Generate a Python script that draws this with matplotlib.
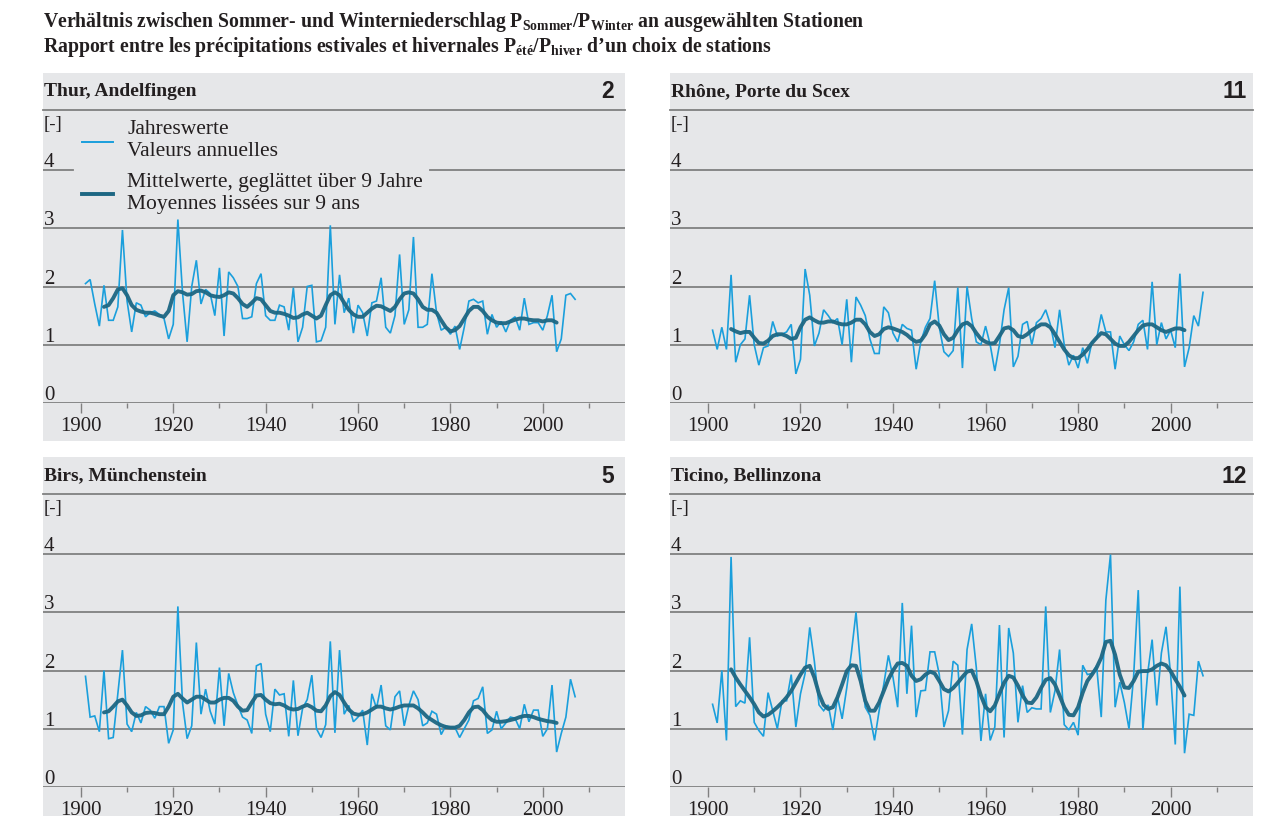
import matplotlib
matplotlib.use('Agg')
import matplotlib.pyplot as plt
from matplotlib.lines import Line2D
from matplotlib.patches import Rectangle
from matplotlib.ticker import FixedLocator

plt.rcParams['font.family'] = ['Liberation Serif', 'DejaVu Serif']
plt.rcParams['mathtext.fontset'] = 'custom'
plt.rcParams['mathtext.rm'] = 'Liberation Serif:bold'
plt.rcParams['mathtext.bf'] = 'Liberation Serif:bold'
plt.rcParams['mathtext.it'] = 'Liberation Serif:bold:italic'

# ---------------- data ----------------
years_annual = list(range(1901, 2008))
years_smooth = list(range(1905, 2004))

thur_annual = [
    2.05, 2.12, 1.7, 1.32, 2.02, 1.42, 1.42, 1.65, 2.97, 1.75,
    1.22, 1.72, 1.68, 1.48, 1.55, 1.58, 1.52, 1.45, 1.1, 1.35,
    3.15, 1.9, 1.05, 2.0, 2.45, 1.7, 1.95, 1.88, 1.5, 2.32,
    1.15, 2.25, 2.15, 2.0, 1.45, 1.45, 1.48, 2.05, 2.22, 1.5,
    1.42, 1.42, 1.68, 1.65, 1.25, 1.98, 1.05, 1.3, 2.0, 2.02,
    1.05, 1.07, 1.3, 3.05, 1.35, 2.2, 1.55, 1.8, 1.2, 1.68,
    1.55, 1.15, 1.72, 1.75, 2.15, 1.3, 1.2, 1.5, 2.55, 1.35,
    1.6, 2.85, 1.3, 1.3, 1.35, 2.22, 1.55, 1.25, 1.3, 1.18,
    1.32, 0.92, 1.3, 1.75, 1.78, 1.72, 1.75, 1.18, 1.52, 1.3,
    1.4, 1.22, 1.42, 1.48, 1.25, 1.8, 1.35, 1.38, 1.38, 1.25,
    1.5, 1.85, 0.88, 1.1, 1.85, 1.88, 1.78,
]
thur_smooth = [
    1.65, 1.68, 1.8, 1.95, 1.97, 1.85,
    1.68, 1.6, 1.57, 1.55, 1.55, 1.53, 1.5, 1.48, 1.58, 1.85,
    1.92, 1.9, 1.86, 1.87, 1.92, 1.93, 1.9, 1.85, 1.83, 1.82,
    1.85, 1.9, 1.88, 1.8, 1.7, 1.65, 1.72, 1.8, 1.78, 1.68,
    1.58, 1.55, 1.55, 1.53, 1.5, 1.46, 1.47, 1.52, 1.55, 1.5,
    1.45, 1.5, 1.68, 1.85, 1.9, 1.85, 1.72, 1.6, 1.52, 1.48,
    1.48, 1.55, 1.62, 1.67, 1.66, 1.62, 1.58, 1.65, 1.78, 1.88,
    1.9, 1.88, 1.78, 1.65, 1.6, 1.6, 1.55, 1.42, 1.3, 1.23,
    1.25, 1.32, 1.45, 1.58, 1.65, 1.65, 1.58, 1.48, 1.42, 1.38,
    1.37, 1.37, 1.4, 1.43, 1.45, 1.45, 1.43, 1.42, 1.42, 1.4,
    1.42, 1.42, 1.38,
]

rhone_annual = [
    1.25, 0.92, 1.3, 0.92, 2.2, 0.7, 1.0, 1.1, 1.85, 1.0,
    0.65, 0.95, 0.98, 1.4, 1.15, 1.18, 1.22, 1.35, 0.5, 0.75,
    2.3, 1.85, 0.98, 1.2, 1.6, 1.5, 1.38, 1.45, 1.0, 1.78,
    0.7, 1.82, 1.68, 1.5, 1.1, 0.85, 0.85, 1.65, 1.55, 1.2,
    1.05, 1.35, 1.28, 1.25, 0.58, 1.05, 1.3, 1.45, 2.1, 1.3,
    0.88, 0.8, 0.9, 1.98, 0.6, 2.0, 1.45, 1.05, 1.0, 1.32,
    1.0, 0.55, 1.0, 1.6, 1.98, 0.62, 0.8, 1.35, 1.4, 1.0,
    1.38, 1.45, 1.6, 1.35, 0.95, 1.6, 1.0, 0.65, 0.82, 0.6,
    0.95, 0.68, 1.05, 1.1, 1.52, 1.22, 1.22, 0.58, 1.15, 1.0,
    0.9, 1.05, 1.35, 1.42, 0.92, 2.08, 1.0, 1.38, 1.1, 1.25,
    0.95, 2.22, 0.62, 0.95, 1.5, 1.32, 1.9,
]
rhone_smooth = [
    1.27, 1.23, 1.2, 1.22, 1.22, 1.12,
    1.03, 1.02, 1.07, 1.15, 1.18, 1.18, 1.15, 1.1, 1.12, 1.3,
    1.43, 1.47, 1.42, 1.38, 1.38, 1.4, 1.4, 1.37, 1.35, 1.35,
    1.38, 1.43, 1.43, 1.35, 1.22, 1.15, 1.18, 1.27, 1.3, 1.28,
    1.25, 1.22, 1.17, 1.1, 1.05, 1.07, 1.18, 1.35, 1.4, 1.33,
    1.18, 1.08, 1.12, 1.25, 1.35, 1.38, 1.32, 1.2, 1.1, 1.05,
    1.02, 1.03, 1.15, 1.28, 1.3, 1.25, 1.15, 1.13, 1.18, 1.25,
    1.3, 1.35, 1.35, 1.3, 1.18, 1.05, 0.92, 0.82, 0.77, 0.77,
    0.83, 0.92, 1.03, 1.12, 1.2, 1.18, 1.1, 1.02, 0.98, 0.98,
    1.05, 1.15, 1.25, 1.33, 1.35, 1.35, 1.3, 1.25, 1.22, 1.25,
    1.28, 1.28, 1.25,
]

birs_annual = [
    1.9, 1.2, 1.22, 0.95, 2.0, 0.83, 0.85, 1.6, 2.35, 1.08,
    0.95, 1.28, 1.1, 1.38, 1.32, 1.18, 1.38, 1.38, 0.75, 0.98,
    3.1, 1.45, 0.83, 1.05, 2.48, 1.25, 1.68, 1.3, 1.08, 2.05,
    1.05, 1.95, 1.62, 1.4, 1.2, 1.15, 0.92, 2.08, 2.12, 1.25,
    0.95, 1.68, 1.58, 1.6, 0.87, 1.83, 0.88, 1.35, 1.5, 1.92,
    1.0, 0.85, 1.07, 2.5, 0.93, 2.35, 1.25, 1.4, 1.12, 1.2,
    1.32, 0.72, 1.6, 1.35, 1.75, 1.05, 0.98, 1.55, 1.65, 1.05,
    1.4, 1.65, 1.5, 1.05, 1.1, 1.3, 1.25, 0.9, 1.05, 1.02,
    1.02, 0.85, 1.0, 1.15, 1.48, 1.52, 1.72, 0.92, 0.98, 1.3,
    1.0, 1.1, 1.2, 1.18, 1.0, 1.42, 1.12, 1.32, 1.32, 0.87,
    1.0, 1.75, 0.6, 0.92, 1.2, 1.85, 1.55,
]
birs_smooth = [
    1.28, 1.3, 1.38, 1.47, 1.5, 1.4,
    1.28, 1.22, 1.23, 1.27, 1.28, 1.27, 1.25, 1.25, 1.38, 1.55,
    1.6, 1.52, 1.45, 1.5, 1.55, 1.55, 1.5, 1.45, 1.45, 1.5,
    1.53, 1.53, 1.48, 1.38, 1.31, 1.32, 1.45, 1.57, 1.58, 1.5,
    1.44, 1.42, 1.43, 1.4, 1.35, 1.33, 1.34, 1.38, 1.41, 1.37,
    1.31, 1.3, 1.4, 1.56, 1.63, 1.58, 1.45, 1.33, 1.26, 1.24,
    1.25, 1.28, 1.33, 1.38, 1.38, 1.35, 1.33, 1.35, 1.38, 1.4,
    1.4, 1.4, 1.35, 1.28, 1.2, 1.15, 1.1, 1.06, 1.03, 1.02,
    1.02, 1.05, 1.15, 1.28, 1.37, 1.38, 1.32, 1.22, 1.15, 1.12,
    1.12, 1.13, 1.15, 1.17, 1.2, 1.22, 1.22, 1.2, 1.17, 1.15,
    1.13, 1.12, 1.1,
]

ticino_annual = [
    1.42, 1.1, 2.0, 0.8, 3.95, 1.38, 1.48, 1.44, 2.57, 1.11,
    0.97, 0.87, 1.62, 1.31, 1.0, 1.48, 1.48, 1.93, 1.03, 1.6,
    1.95, 2.74, 2.16, 1.41, 1.31, 1.41, 0.98, 1.55, 1.17, 1.7,
    2.3, 3.0, 2.05, 1.37, 1.23, 0.8, 1.31, 1.76, 2.26, 1.88,
    1.37, 3.16, 1.6, 2.77, 1.2, 1.65, 1.66, 2.32, 2.32, 1.93,
    1.03, 1.31, 2.16, 2.09, 0.9, 2.36, 2.8, 2.05, 0.79, 1.6,
    0.8, 1.03, 2.78, 0.85, 2.73, 2.3, 1.11, 1.74, 1.28, 1.36,
    1.34, 1.34, 3.1, 1.28, 1.65, 2.36, 1.07, 0.98, 1.11, 0.89,
    2.09, 1.93, 1.95, 2.08, 1.2, 3.21, 3.99, 1.37, 1.8, 1.45,
    1.0, 1.9, 3.38, 0.98, 1.93, 2.53, 1.4, 2.3, 2.75, 1.93,
    0.73, 3.44, 0.58, 1.25, 1.23, 2.16, 1.91,
]
ticino_smooth = [
    2.02, 1.88, 1.76, 1.65, 1.54, 1.42,
    1.28, 1.21, 1.24, 1.3, 1.37, 1.45, 1.54, 1.65, 1.79, 1.93,
    2.05, 2.08, 1.88, 1.6, 1.41, 1.34, 1.37, 1.54, 1.76, 1.99,
    2.09, 2.08, 1.82, 1.48, 1.31, 1.31, 1.45, 1.65, 1.85, 2.0,
    2.12, 2.13, 2.08, 1.91, 1.82, 1.85, 1.93, 1.98, 1.95, 1.82,
    1.68, 1.64, 1.7, 1.79, 1.89, 1.98, 2.0, 1.82, 1.57, 1.37,
    1.3, 1.4, 1.6, 1.79, 1.91, 1.88, 1.74, 1.57, 1.45, 1.44,
    1.54, 1.7, 1.84, 1.87, 1.76, 1.57, 1.37, 1.24, 1.23, 1.37,
    1.62, 1.82, 1.93, 2.05, 2.22, 2.49, 2.51, 2.27, 1.93, 1.71,
    1.7, 1.82, 1.98, 1.99, 1.99, 2.02, 2.08, 2.12, 2.09, 1.99,
    1.85, 1.72, 1.57,
]

station_names = ['Thur, Andelfingen', 'Rhône, Porte du Scex',
                 'Birs, Münchenstein', 'Ticino, Bellinzona']
station_numbers = ['2', '11', '5', '12']
x_tick_labels = ['1900', '1920', '1940', '1960', '1980', '2000']
y_tick_labels = ['0', '1', '2', '3', '4']

title_de = ('Verhältnis zwischen Sommer- und Winterniederschlag '
            'P$_{\\mathrm{Sommer}}$/P$_{\\mathrm{Winter}}$ an ausgewählten Stationen')
title_fr = ('Rapport entre les précipitations estivales et hivernales '
            'P$_{\\mathrm{été}}$/P$_{\\mathrm{hiver}}$ d’un choix de stations')
legend_texts = ['Jahreswerte', 'Valeurs annuelles',
                'Mittelwerte, geglättet über 9 Jahre', 'Moyennes lissées sur 9 ans']

# ---------------- layout ----------------
W, H = 1273, 816
fig = plt.figure(figsize=(W / 100, H / 100), dpi=100)
fig.patch.set_facecolor('white')


def fx(px):
    return px / W


def fy(py):
    return 1 - py / H


BG = '#e6e7e9'
GRID = '#808080'
C_ANN = '#1a9fdc'
C_SM = '#1d6783'
TXT = '#231f20'
PX_PER_UNIT = 58.25

fig.text(fx(43), fy(22), title_de, fontsize=14.2, fontweight='bold',
         va='center', ha='left', color=TXT)
fig.text(fx(43), fy(47), title_fr, fontsize=14.2, fontweight='bold',
         va='center', ha='left', color=TXT)

annuals = [thur_annual, rhone_annual, birs_annual, ticino_annual]
smooths = [thur_smooth, rhone_smooth, birs_smooth, ticino_smooth]
col_x = [43, 670]
col_w = [582, 583]
num_right = [614, 1247]
row_y = [73, 457]

for i in range(4):
    r, c = divmod(i, 2)
    x0, w, y0 = col_x[c], col_w[c], row_y[r]
    sep = y0 + 37
    zero = y0 + 330
    bottom = y0 + 368
    # panel background
    fig.patches.append(Rectangle((fx(x0), fy(bottom)), w / W, (bottom - y0) / H,
                                 transform=fig.transFigure, facecolor=BG,
                                 edgecolor='none', zorder=-5))
    # header
    fig.text(fx(x0 + 1), fy(y0 + 19), station_names[i], fontsize=14,
             fontweight='bold', va='center', ha='left', color=TXT)
    fig.text(fx(num_right[c]), fy(y0 + 19), station_numbers[i], fontsize=16.5,
             fontweight='bold', family='Liberation Sans', va='center',
             ha='right', color=TXT)
    fig.add_artist(Line2D([fx(x0), fx(x0 + w)], [fy(sep), fy(sep)],
                          color=GRID, lw=1.3))
    fig.text(fx(x0 + 1), fy(sep + 14), '[-]', fontsize=13.5, va='center',
             ha='left', color=TXT)

    ax = fig.add_axes([fx(x0), fy(zero), w / W, (zero - sep) / H])
    ax.set_facecolor('none')
    ax.set_xlim(1891.8, 2017.8)
    ax.set_ylim(0, (zero - sep) / PX_PER_UNIT)
    for s in ax.spines.values():
        s.set_visible(False)
    ax.set_yticks([])
    ax.xaxis.set_major_locator(FixedLocator([int(t) for t in x_tick_labels]))
    ax.set_xticklabels(x_tick_labels)
    ax.xaxis.set_minor_locator(FixedLocator([1910, 1930, 1950, 1970, 1990, 2010]))
    ax.tick_params(axis='x', which='major', length=7, width=1, color=GRID,
                   pad=3, labelsize=15, labelcolor=TXT)
    ax.tick_params(axis='x', which='minor', length=3.5, width=1, color=GRID)

    for v, lab in enumerate(y_tick_labels):
        if i == 0 and v == 4:
            ax.axhline(v, xmin=0, xmax=(73 - 43) / w, color=GRID, lw=1.3, zorder=1)
            ax.axhline(v, xmin=(430 - 43) / w, xmax=1, color=GRID, lw=1.3, zorder=1)
        else:
            ax.axhline(v, color=GRID, lw=1.3, zorder=1)
        ax.annotate(lab, xy=(0, v), xycoords=('axes fraction', 'data'),
                    xytext=(1, 3), textcoords='offset pixels', fontsize=15,
                    ha='left', va='baseline', color=TXT)

    ax.plot(years_annual, annuals[i], color=C_ANN, lw=1.2, zorder=3,
            solid_joinstyle='miter')
    ax.plot(years_smooth, smooths[i], color=C_SM, lw=2.8, zorder=4,
            solid_joinstyle='round', solid_capstyle='round', alpha=0.95)

# legend in first panel
fig.add_artist(Line2D([fx(82), fx(113)], [fy(142), fy(142)], color=C_ANN, lw=1.4))
fig.add_artist(Line2D([fx(82), fx(113)], [fy(194), fy(194)], color=C_SM, lw=2.8))
for t, yy in zip(legend_texts, [129, 151, 182, 205]):
    fig.text(fx(127), fy(yy), t, fontsize=15.5, va='center', ha='left', color=TXT)

fig.savefig('out.png', dpi=100, facecolor='white')
